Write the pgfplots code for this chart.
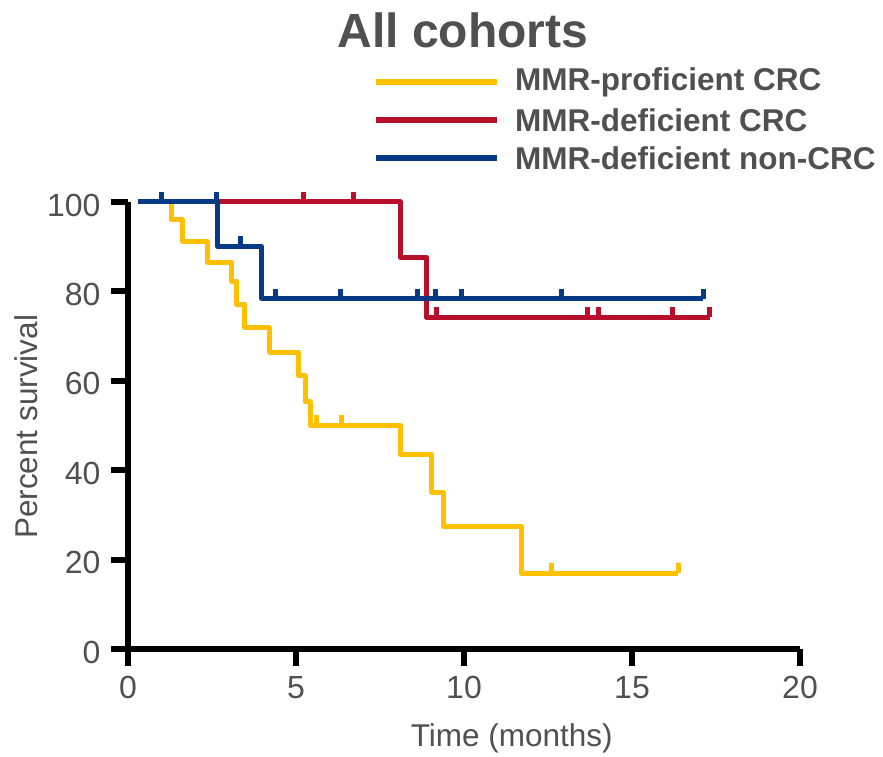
\documentclass[border=0pt]{standalone}
\usepackage{fontspec}
\setmainfont{Liberation Sans}
\usepackage{pgfplots}
\pgfplotsset{compat=1.18}
\definecolor{cy}{HTML}{FFC000}
\definecolor{cr}{HTML}{B80F2A}
\definecolor{cb}{HTML}{073A85}
\definecolor{tg}{HTML}{505050}
\pgfdeclareplotmark{cens}{%
  \pgfpathmoveto{\pgfpointorigin}%
  \pgfpathlineto{\pgfpoint{0pt}{\pgfplotmarksize}}%
  \pgfusepathqstroke}
\begin{document}
\begin{tikzpicture}[x=1bp,y=1bp]
\useasboundingbox (0,0) rectangle (883,757);
\begin{axis}[
  at={(128bp,108bp)}, anchor=south west,
  scale only axis, width=672bp, height=447bp,
  xmin=0, xmax=20, ymin=0, ymax=100,
  clip=false,
  axis x line*=bottom, axis y line*=left,
  axis line style={line width=6bp, black, -},
  xtick={0,5,10,15,20}, ytick={0,20,40,60,80,100},
  tick align=outside, major tick length=17bp,
  every tick/.style={line width=6bp, black},
  xtick style={line width=6bp, black},
  ytick style={line width=6bp, black},
  minor tick num=0,
  /pgf/number format/assume math mode=true,
  ticklabel style={font=\fontsize{32bp}{38bp}\selectfont, text=tg},
  xticklabel style={yshift=-7bp},
  yticklabel style={xshift=-7bp, yshift=-3bp},
  xlabel={Time (months)}, ylabel={Percent survival},
  label style={font=\fontsize{31.5bp}{36bp}\selectfont, text=tg},
  xlabel style={at={(axis description cs:0.571,-0.2)}, anchor=center},
  ylabel style={at={(axis description cs:-0.152,0.497)}, anchor=center},
]
% MMR-proficient CRC
\addplot[const plot, cy, line width=5bp, line join=round] coordinates {
 (0.3,100) (1.30,96.0) (1.63,91.2) (2.36,86.5) (3.09,82.3) (3.24,77.1)
 (3.48,71.9) (4.20,66.4) (5.07,61.2) (5.27,55.3) (5.42,50.0) (8.10,43.4)
 (9.04,35.1) (9.38,27.3) (11.72,16.9) (16.38,16.9)};
\addplot[only marks, mark=cens, mark size=10bp, cy, mark options={line width=5bp}] coordinates {
 (5.62,50.0) (6.36,50.0) (12.61,16.9) (16.38,16.9)};
% MMR-deficient CRC
\addplot[const plot, cr, line width=5bp, line join=round] coordinates {
 (0.3,100) (8.10,87.6) (8.89,74.2) (17.32,74.2)};
\addplot[only marks, mark=cens, mark size=10bp, cr, mark options={line width=5bp}] coordinates {
 (5.22,100) (6.70,100) (9.17,74.2) (13.68,74.2) (14.00,74.2) (16.21,74.2) (17.32,74.2)};
% MMR-deficient non-CRC
\addplot[const plot, cb, line width=5bp, line join=round] coordinates {
 (0.3,100) (2.66,90.1) (3.98,78.4) (17.12,78.4)};
\addplot[only marks, mark=cens, mark size=10bp, cb, mark options={line width=5bp}] coordinates {
 (1.00,100) (2.63,100) (3.35,90.1) (4.38,78.4) (6.33,78.4) (8.61,78.4) (9.16,78.4)
 (9.93,78.4) (12.91,78.4) (17.12,78.4)};
\end{axis}
\node[font=\fontsize{48bp}{56bp}\selectfont\bfseries, text=tg] at (463,727) {All cohorts};
\draw[cy, line width=6bp] (376,675) -- (497,675);
\draw[cr, line width=6bp] (376,637) -- (497,637);
\draw[cb, line width=6bp] (376,599) -- (497,599);
\begin{scope}[every node/.style={anchor=west, inner sep=0pt, text=tg, font=\fontsize{31.5bp}{36bp}\selectfont\bfseries}]
\node at (515,675) {MMR-proficient CRC};
\node at (515,637) {MMR-deficient CRC};
\node at (515,599) {MMR-deficient non-CRC};
\end{scope}
\end{tikzpicture}
\end{document}
